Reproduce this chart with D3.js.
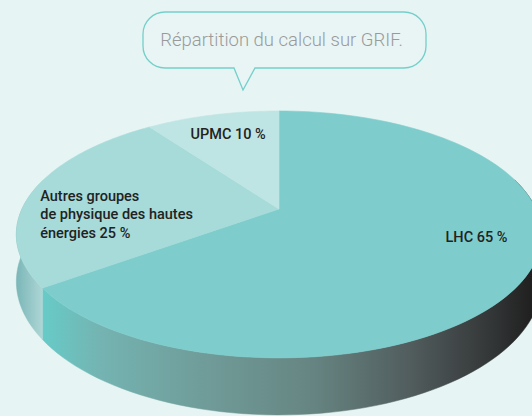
<!DOCTYPE html>
<html>
<head>
<meta charset="utf-8">
<script src="https://cdn.jsdelivr.net/npm/d3@7"></script>
<style>
html,body{margin:0;padding:0;background:#e6f4f3;}
svg{display:block;}
</style>
</head>
<body>
<script>
// ---- data ----
const categories = ["LHC", "Autres groupes de physique des hautes énergies", "UPMC"];
const values = [65, 25, 10];
const labelLines = [["LHC 65 %"], ["Autres groupes", "de physique des hautes", "énergies 25 %"], ["UPMC 10 %"]];
const title = "Répartition du calcul sur GRIF.";

// ---- layout / style ----
const W = 532, H = 416;
const cx = 279, cy = 209;      // projected pie apex
const A = 257, B = 118.2;      // horizontal / vertical radius factors
const K = 0.206;               // perspective factor
const DEPTH = 45.3;            // thickness
const faceColors = ["#7ecdcc", "#a6dbd9", "#bee5e4"];
const labelOffsets = [[26, -12], [-65, 18], [-2, -6]]; // dx,dy from projected centroid
const labelR = 0.7;

const svg = d3.select("body").append("svg").attr("width", W).attr("height", H);
svg.append("rect").attr("width", W).attr("height", H).attr("fill", "#e6f4f3");

function proj(theta, r, z) {
  const u = r * Math.sin(theta), v = -r * Math.cos(theta);
  const d = 1 - K * v;
  return [cx + A * u / d, cy + (B * v + z * DEPTH) / d];
}

const pie = d3.pie().sort(null).startAngle(0).endAngle(2 * Math.PI);
const arcs = pie(values);

const defs = svg.append("defs");
const gL = defs.append("linearGradient").attr("id", "sideLHC").attr("gradientUnits", "userSpaceOnUse")
  .attr("x1", 40).attr("x2", 535).attr("y1", 0).attr("y2", 0);
[[0, "#66ccc8"], [0.12, "#74b4b2"], [0.35, "#6f9a97"], [0.55, "#668582"], [0.75, "#515c5d"], [0.9, "#36393a"], [1, "#1e1e1e"]]
  .forEach(([o, c]) => gL.append("stop").attr("offset", o).attr("stop-color", c));
const gA = defs.append("linearGradient").attr("id", "sideAutres").attr("gradientUnits", "userSpaceOnUse")
  .attr("x1", 12).attr("x2", 46).attr("y1", 0).attr("y2", 0);
[[0, "#72b1b2"], [1, "#b5dada"]].forEach(([o, c]) => gA.append("stop").attr("offset", o).attr("stop-color", c));
const sideFills = ["url(#sideLHC)", "url(#sideAutres)", "#9fcfcf"];

const line = d3.line();
const visA = 75 * Math.PI / 180, visB = 285 * Math.PI / 180;
arcs.forEach((a, i) => {
  const s = Math.max(a.startAngle, visA), e = Math.min(a.endAngle, visB);
  if (e <= s) return;
  const n = 80, top = [], bot = [];
  for (let j = 0; j <= n; j++) {
    const t = s + (e - s) * j / n;
    top.push(proj(t, 1, 0));
    bot.push(proj(t, 1, 1));
  }
  svg.append("path").attr("d", line(top.concat(bot.reverse())) + "Z")
    .attr("fill", sideFills[i]).attr("stroke", sideFills[i]).attr("stroke-width", 0.5);
});

arcs.forEach((a, i) => {
  const n = 120, pts = [proj(0, 0, 0)];
  for (let j = 0; j <= n; j++) pts.push(proj(a.startAngle + (a.endAngle - a.startAngle) * j / n, 1, 0));
  svg.append("path").attr("d", line(pts) + "Z").attr("fill", faceColors[i])
    .attr("stroke", faceColors[i]).attr("stroke-width", 0.6);
});

arcs.forEach((a, i) => {
  const mid = (a.startAngle + a.endAngle) / 2;
  const [x, y] = proj(mid, labelR, 0);
  const lines = labelLines[i];
  const lh = 18.5;
  const t = svg.append("text")
    .attr("font-family", "Roboto, 'DejaVu Sans', sans-serif")
    .attr("font-weight", 500).attr("font-size", 14.5).attr("fill", "#222222")
    .attr("text-anchor", lines.length > 1 ? "start" : "middle");
  const x0 = x + labelOffsets[i][0];
  const y0 = y + labelOffsets[i][1] - (lines.length - 1) * lh / 2 + 5;
  lines.forEach((l, j) => t.append("tspan").attr("x", x0).attr("y", y0 + j * lh).text(l));
});

const bx0 = 143, bx1 = 426, by0 = 12, by1 = 68, br = 22;
const tailL = 234, tailR = 255, tipX = 243, tipY = 90;
const p = d3.path();
p.moveTo(bx0 + br, by0);
p.lineTo(bx1 - br, by0);
p.arcTo(bx1, by0, bx1, by0 + br, br);
p.lineTo(bx1, by1 - br);
p.arcTo(bx1, by1, bx1 - br, by1, br);
p.lineTo(tailR, by1);
p.lineTo(tipX, tipY);
p.lineTo(tailL, by1);
p.lineTo(bx0 + br, by1);
p.arcTo(bx0, by1, bx0, by1 - br, br);
p.lineTo(bx0, by0 + br);
p.arcTo(bx0, by0, bx0 + br, by0, br);
p.closePath();
svg.append("path").attr("d", p.toString()).attr("fill", "#e8f5f4")
  .attr("stroke", "#74cfcb").attr("stroke-width", 1.3);
svg.append("text").attr("x", (bx0 + bx1) / 2 - 3).attr("y", 45.5)
  .attr("text-anchor", "middle")
  .attr("font-family", "Roboto, 'DejaVu Sans', sans-serif").attr("font-weight", 300)
  .attr("font-size", 18.5).attr("fill", "#9a9a9a").text(title);
</script>
</body>
</html>
